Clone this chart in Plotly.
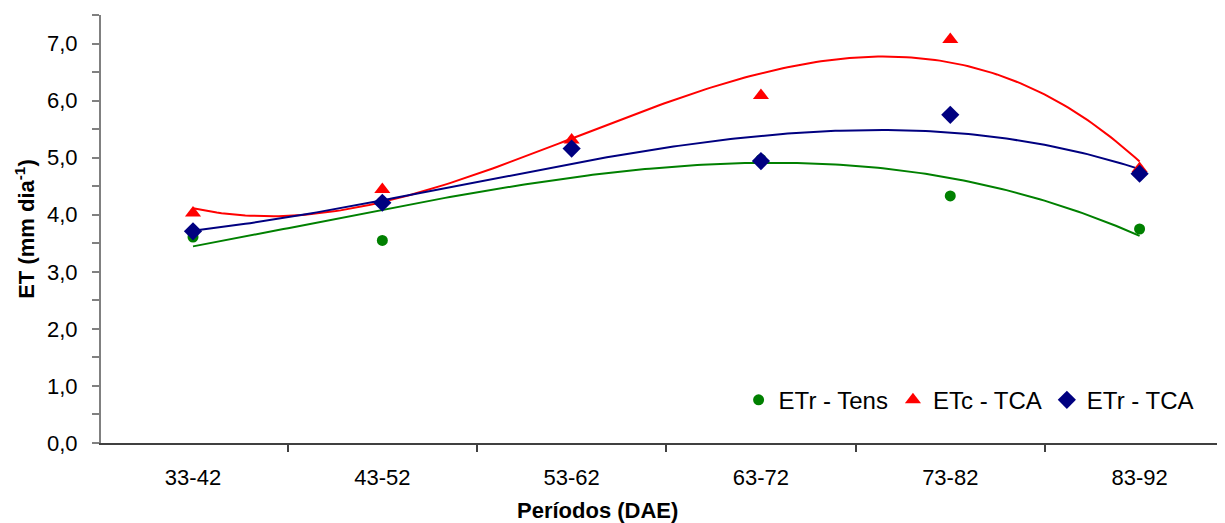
import numpy as np
import plotly.graph_objects as go

categories = ["33-42", "43-52", "53-62", "63-72", "73-82", "83-92"]
etr_tens = [3.61, 3.55, 5.16, 4.97, 4.33, 3.75]
etc_tca = [4.03, 4.44, 5.31, 6.09, 7.07, 4.81]
etr_tca = [3.71, 4.21, 5.16, 4.94, 5.75, 4.72]
y_ticks = [0, 1, 2, 3, 4, 5, 6, 7]
y_ticktext = ["0,0", "1,0", "2,0", "3,0", "4,0", "5,0", "6,0", "7,0"]

xpos = np.arange(len(categories))
xfine = np.linspace(0, len(categories) - 1, 200)

series = [
    ("ETr - Tens", etr_tens, "#008000", "circle", 11),
    ("ETc - TCA", etc_tca, "#FF0000", "triangle-up", 14),
    ("ETr - TCA", etr_tca, "#000080", "diamond", 14),
]

fig = go.Figure()
# polynomial (order 3) trendlines, as in the original spreadsheet chart
for name, vals, color, sym, size in series:
    coef = np.polyfit(xpos, vals, 3)
    fig.add_trace(go.Scatter(x=xfine, y=np.polyval(coef, xfine), mode="lines",
                             line=dict(color=color, width=2), showlegend=False,
                             hoverinfo="skip"))
for name, vals, color, sym, size in series:
    fig.add_trace(go.Scatter(x=xpos, y=vals, mode="markers", name=name,
                             marker=dict(symbol=sym, color=color, size=size,
                                         line=dict(width=0))))

font_family = "Liberation Sans, Arial, sans-serif"
fig.update_layout(
    width=1217, height=515,
    margin=dict(l=93, r=4, t=7, b=80),
    paper_bgcolor="white", plot_bgcolor="white",
    font=dict(family=font_family, size=22, color="black"),
    showlegend=True,
    legend=dict(orientation="h", x=0.98, xanchor="right", y=0.1, yanchor="middle",
                bgcolor="rgba(0,0,0,0)", font=dict(size=24), itemwidth=30,
                traceorder="normal"),
    xaxis=dict(range=[-0.486, 5.43], tickmode="array", tickvals=list(xpos),
               ticktext=categories, ticks="", showgrid=False, zeroline=False,
               showline=True, linecolor="#404040", linewidth=1.5,
               ticklabelstandoff=14,
               minor=dict(tickmode="array", tickvals=[0.5, 1.5, 2.5, 3.5, 4.5],
                          ticks="outside", ticklen=7, tickcolor="#404040",
                          tickwidth=1.5, showgrid=False)),
    yaxis=dict(range=[0, 7.5], tickmode="array", tickvals=y_ticks,
               ticktext=y_ticktext, ticks="outside", ticklen=7,
               tickcolor="#808080", tickwidth=2, showgrid=False, zeroline=False,
               showline=True, linecolor="#808080", linewidth=2,
               ticklabelstandoff=10,
               minor=dict(dtick=0.5, ticks="outside", ticklen=7,
                          tickcolor="#808080", tickwidth=2, showgrid=False)),
    annotations=[
        dict(text="<b>Períodos (DAE)</b>", xref="paper", yref="paper",
             x=0.443, y=-0.157, xanchor="center", yanchor="middle",
             showarrow=False, font=dict(size=22)),
        dict(text="<b>ET (mm dia<sup>-1</sup>)</b>", xref="paper", yref="paper",
             x=-0.068, y=0.5, xanchor="center", yanchor="middle", textangle=-90,
             showarrow=False, font=dict(size=22)),
    ],
)

fig.write_html("out.html")
